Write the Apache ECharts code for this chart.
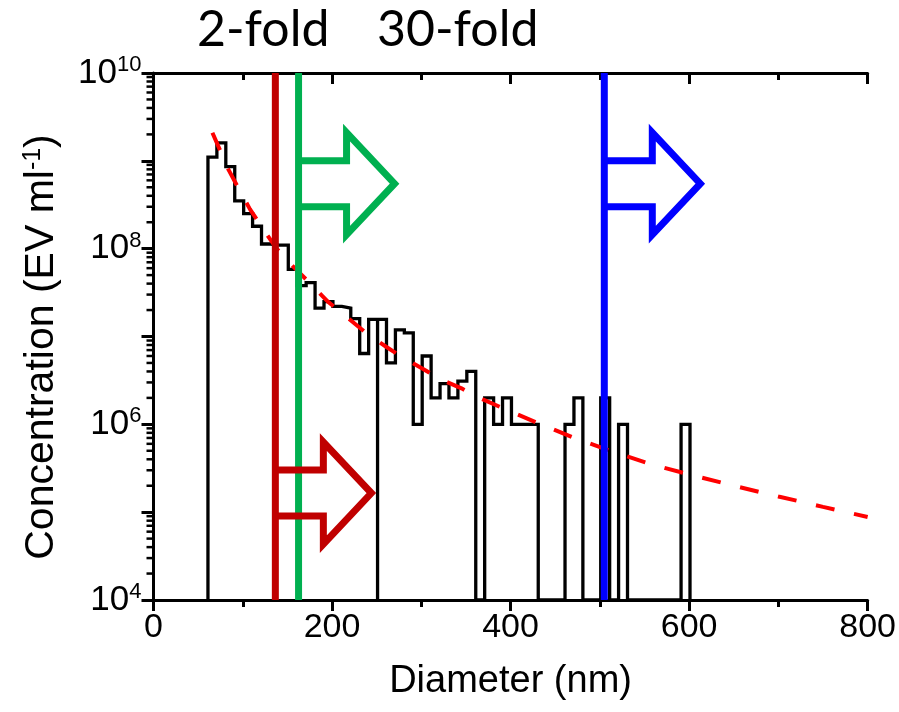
<!DOCTYPE html>
<html><head><meta charset="utf-8">
<script src="https://cdn.jsdelivr.net/npm/echarts@6/dist/echarts.min.js"></script>
<style>html,body{margin:0;padding:0;background:#fff}#c{width:899px;height:712px}</style>
</head><body><div id="c"></div>
<script>
// Histogram bins (nm) and concentrations (EV/ml); 0 = empty bin
const binEdges = [61,71,81,91,101,111,121,131,141,151,161,171,181,191,201,211,221,231,241,251,251,261,271,281,291,301,311,321,331,341,351,361,371,381,391,401,411,421,431,441,451,461,471,481,491,501,511,521,531,541,551,561,571,581,591,601];
const binValues = [1.1e9,1.6e9,8.6e8,3.5e8,2.5e8,1.8e8,1.13e8,1.1e8,1.1e8,5.8e7,3.8e7,4.1e7,2.1e7,2.5e7,2.2e7,2.1e7,1.6e7,6.4e6,1.57e7,0,1.57e7,5e6,1.19e7,1.1e7,1e6,6e6,2e6,2.9e6,2e6,3.1e6,4e6,0,2e6,1e6,2e6,1e6,1e6,1e6,0,0,0,1e6,2e6,0,0,2e6,0,1e6,0,0,0,0,0,0,1e6];
// Red dashed fit line
const fitD = [66,84,95,108,121,138,155,177,195,218,238,261,281,302,322,345,365,388,432,473,514,559,604,650,700,750,800];
const fitC = [2.09e9,7.94e8,4.9e8,2.82e8,1.78e8,1.0e8,6.46e7,3.89e7,2.51e7,1.62e7,1.1e7,7.59e6,5.62e6,4.27e6,3.24e6,2.57e6,2.0e6,1.58e6,1.02e6,6.9e5,4.9e5,3.47e5,2.63e5,2.0e5,1.51e5,1.15e5,8.8e4];
// Threshold lines (nm) and arrows
const thresholdD = [136.5, 162.5, 505];
const thresholdColors = ['#C00000', '#00B050', '#0000FF'];
const arrowY = [1.65e5, 5.5e8, 5.5e8];
const titleTexts = ['2-fold', '30-fold'];
const xTicks = [0, 200, 400, 600, 800];

const Y_MIN = 1e4, Y_MAX = 1e10;

const histPts = [];
histPts.push([binEdges[0], Y_MIN]);
for (let i = 0; i < binValues.length; i++) {
  const v = binValues[i] > 0 ? binValues[i] : Y_MIN;
  histPts.push([binEdges[i], v]);
  histPts.push([binEdges[i + 1], v]);
}
histPts.push([binEdges[binEdges.length - 1], Y_MIN]);

const minorVals = [];
for (let e = 4; e < 10; e++) for (let m = 2; m <= 9; m++) minorVals.push([0, m * Math.pow(10, e)]);

const series = [];
series.push({type:'line', data: histPts, symbol:'none', lineStyle:{color:'#000', width:3.3, join:'miter'}, z:2, animation:false});
series.push({type:'line', data: fitD.map((d,i)=>[d, fitC[i]]), symbol:'none', smooth:false,
  lineStyle:{color:'#FF0000', width:4, type:[19,20]}, z:3, animation:false});
thresholdD.forEach((d,i)=>{
  series.push({type:'line', data:[[d, Y_MIN],[d, Y_MAX]], symbol:'none', lineStyle:{color:thresholdColors[i], width:7, cap:'butt'}, z:4, animation:false});
});
series.push({type:'custom', z:5, clip:false, animation:false,
  data: thresholdD.map((d,i)=>[d, arrowY[i], i]),
  renderItem: function(params, api){
    const p = api.coord([api.value(0), api.value(1)]);
    const i = api.value(2);
    const s = 23, b = 48, h = 51, t = 96;
    const x0 = p[0], y0 = p[1];
    return {type:'polyline', shape:{points:[[x0, y0-s],[x0+b, y0-s],[x0+b, y0-h],[x0+t, y0],[x0+b, y0+h],[x0+b, y0+s],[x0, y0+s]]},
      style:{stroke: thresholdColors[i], lineWidth:7, fill:null, lineJoin:'miter', miterLimit:10}};
  }});
// log minor ticks on left axis
series.push({type:'custom', z:6, clip:false, animation:false, data: minorVals,
  renderItem: function(params, api){
    const p = api.coord([0, api.value(1)]);
    return {type:'line', shape:{x1:p[0]-7, y1:p[1], x2:p[0], y2:p[1]}, style:{stroke:'#000', lineWidth:2.5}};
  }});

const chart = echarts.init(document.getElementById('c'), null, {renderer:'canvas'});
const axisFont = 'Liberation Sans';
chart.setOption({
  backgroundColor:'#fff',
  animation:false,
  grid:{left:153.5, right:30, top:73, bottom:112, containLabel:false},
  xAxis:[{type:'value', min:0, max:800, interval:200, position:'bottom',
    axisLine:{lineStyle:{color:'#000', width:3}},
    axisTick:{length:11, lineStyle:{width:3, color:'#000'}},
    minorTick:{show:true, splitNumber:2, length:7, lineStyle:{width:3, color:'#000'}},
    splitLine:{show:false},
    axisLabel:{fontSize:34, color:'#000', fontFamily:axisFont, margin:11,
      formatter: v => xTicks.indexOf(v) >= 0 ? String(v) : ''},
    name:'Diameter (nm)', nameLocation:'middle', nameGap:63,
    nameTextStyle:{fontSize:38, color:'#000', fontFamily:axisFont}},
   {type:'value', min:0, max:800, interval:200, position:'top',
    axisLine:{lineStyle:{color:'#000', width:3}},
    axisTick:{inside:true, length:11, lineStyle:{width:3, color:'#000'}},
    minorTick:{show:true, splitNumber:2, length:7, lineStyle:{width:3, color:'#000'}},
    splitLine:{show:false}, axisLabel:{show:false}}],
  yAxis:[{type:'log', logBase:10, min:Y_MIN, max:Y_MAX, splitNumber:6,
    axisLine:{lineStyle:{color:'#000', width:3}},
    axisTick:{length:12, lineStyle:{width:3, color:'#000'}},
    splitLine:{show:false},
    axisLabel:{color:'#000', margin:12, fontFamily:axisFont,
      formatter: v => { const e = Math.round(Math.log10(v)); return e % 2 === 0 ? '{b|10}{s|' + e + '}' : ''; },
      rich:{b:{fontSize:35, fontFamily:axisFont, color:'#000'}, s:{fontSize:22, fontFamily:axisFont, color:'#000', verticalAlign:'top', padding:[0,0,16,0]}}}}],
  graphic:[
    {type:'text', x:197, y:30, style:{text:titleTexts[0], font:'50px Lato', fill:'#000', verticalAlign:'middle', align:'left'}},
    {type:'text', x:377, y:30, style:{text:titleTexts[1], font:'50px Lato', fill:'#000', verticalAlign:'middle', align:'left'}},
    {type:'text', x:42, y:347, rotation:Math.PI/2,
      style:{text:'{a|Concentration (EV ml}{s|-1}{a|)}', align:'center', verticalAlign:'middle', fill:'#000',
        rich:{a:{fontSize:41, fontFamily:axisFont, fill:'#000'}, s:{fontSize:25, fontFamily:axisFont, fill:'#000', padding:[0,0,18,0]}}}}
  ],
  series: series
});
</script>
</body></html>
